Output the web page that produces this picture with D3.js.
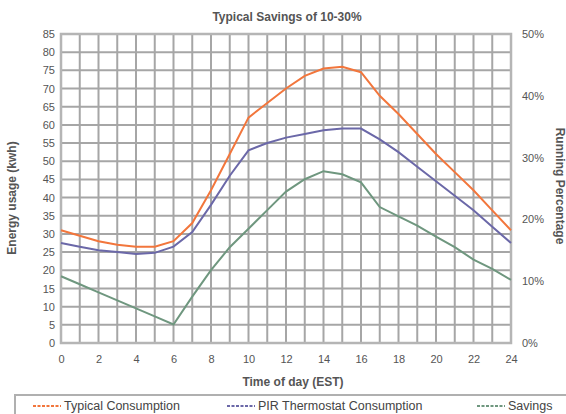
<!DOCTYPE html>
<html>
<head>
<meta charset="utf-8">
<script src="https://cdn.jsdelivr.net/npm/d3@7"></script>
<style>
  html, body { margin: 0; padding: 0; background: #fff; }
  svg { display: block; font-family: "Liberation Sans", Arial, sans-serif; }
</style>
</head>
<body>
<svg id="chart" width="566" height="414"></svg>
<script>
// Hour of day (EST)
const hours = d3.range(0, 25);
// Typical consumption, kWh
const typical = [31, 29.5, 28, 27, 26.5, 26.5, 28, 33, 42, 52, 62, 66, 70, 73.5, 75.5, 76, 74.5, 68, 63, 57.5, 52, 47, 42, 36.5, 31];
// PIR thermostat consumption, kWh
const pir = [27.5, 26.5, 25.5, 25, 24.5, 24.8, 26.5, 30.5, 38, 46, 53, 55, 56.5, 57.5, 58.5, 59, 59, 56, 52.5, 48.5, 44.5, 40.5, 36.5, 32, 27.5];
// Running savings percentage
const savings = [10.8, 9.5, 8.2, 6.9, 5.6, 4.3, 3.0, 7.5, 11.8, 15.5, 18.5, 21.5, 24.5, 26.5, 27.8, 27.3, 26, 22, 20.5, 19, 17.2, 15.5, 13.5, 12, 10.2];

const xTicks = d3.range(0, 25, 2);
const yTicks = d3.range(0, 86, 5);
const pTicks = [0, 10, 20, 30, 40, 50];

const seriesNames = ["Typical Consumption", "PIR Thermostat Consumption", "Savings"];
const seriesColors = ["#f2763c", "#6b68a8", "#6f977f"];

const svg = d3.select("#chart");
const m = { left: 61, right: 511, top: 34, bottom: 343 };

const x = d3.scaleLinear().domain([0, 24]).range([m.left, m.right]);
const y = d3.scaleLinear().domain([0, 85]).range([m.bottom, m.top]);
const yp = d3.scaleLinear().domain([0, 50]).range([m.bottom, m.top]);

const gridColor = "#a6a6a6";
const textColor = "#555";

// grid
const grid = svg.append("g");
grid.selectAll("line.h").data(yTicks).join("line")
  .attr("x1", m.left).attr("x2", m.right)
  .attr("y1", d => y(d)).attr("y2", d => y(d))
  .attr("stroke", gridColor).attr("stroke-width", 2);
grid.selectAll("line.v").data(d3.range(0, 25)).join("line")
  .attr("y1", m.top).attr("y2", m.bottom)
  .attr("x1", d => x(d)).attr("x2", d => x(d))
  .attr("stroke", gridColor).attr("stroke-width", 2);
grid.append("rect")
  .attr("x", m.left).attr("y", m.top)
  .attr("width", m.right - m.left).attr("height", m.bottom - m.top)
  .attr("fill", "none").attr("stroke", "#b5b5b5").attr("stroke-width", 2.5);

// axes
function styleAxis(g) {
  g.select(".domain").remove();
  g.selectAll("text").attr("fill", textColor).attr("font-size", 11);
}
svg.append("g").attr("transform", `translate(${m.left},0)`)
  .call(d3.axisLeft(y).tickValues(yTicks).tickSize(0).tickPadding(6))
  .call(styleAxis);
svg.append("g").attr("transform", `translate(${m.right},0)`)
  .call(d3.axisRight(yp).tickValues(pTicks).tickSize(0).tickPadding(11).tickFormat(d => d + "%"))
  .call(styleAxis);
svg.append("g").attr("transform", `translate(0,${m.bottom})`)
  .call(d3.axisBottom(x).tickValues(xTicks).tickSize(0).tickPadding(12))
  .call(styleAxis);

// titles
svg.append("text").attr("x", 287).attr("y", 21).attr("text-anchor", "middle")
  .attr("font-size", 12).attr("font-weight", "bold").attr("fill", textColor)
  .text("Typical Savings of 10-30%");
svg.append("text").attr("x", 293).attr("y", 386).attr("text-anchor", "middle")
  .attr("font-size", 12).attr("font-weight", "bold").attr("fill", textColor)
  .text("Time of day (EST)");
svg.append("text").attr("transform", "translate(16,198) rotate(-90)")
  .attr("text-anchor", "middle").attr("font-size", 12).attr("font-weight", "bold").attr("fill", textColor)
  .text("Energy usage (kwh)");
svg.append("text").attr("transform", "translate(556,186) rotate(90)")
  .attr("text-anchor", "middle").attr("font-size", 12).attr("font-weight", "bold").attr("fill", textColor)
  .text("Running Percentage");

// series
const lineY = d3.line().x((d, i) => x(hours[i])).y(d => y(d));
const lineP = d3.line().x((d, i) => x(hours[i])).y(d => yp(d));
svg.append("path").datum(savings).attr("d", lineP)
  .attr("fill", "none").attr("stroke", seriesColors[2]).attr("stroke-width", 2);
svg.append("path").datum(pir).attr("d", lineY)
  .attr("fill", "none").attr("stroke", seriesColors[1]).attr("stroke-width", 2);
svg.append("path").datum(typical).attr("d", lineY)
  .attr("fill", "none").attr("stroke", seriesColors[0]).attr("stroke-width", 2);

// legend
svg.append("rect").attr("x", 15).attr("y", 395).attr("width", 560).attr("height", 40)
  .attr("fill", "none").attr("stroke", "#b0b0b0").attr("stroke-width", 2);
const legendX = [33, 227, 477];
const lg = svg.append("g").selectAll("g").data(seriesNames).join("g")
  .attr("transform", (d, i) => `translate(${legendX[i]},406)`);
lg.append("line").attr("x1", 0).attr("x2", 28).attr("y1", 0).attr("y2", 0)
  .attr("stroke", (d, i) => seriesColors[i]).attr("stroke-width", 2)
  .attr("stroke-dasharray", "3,1.5");
lg.append("text").attr("x", 31).attr("y", 4)
  .attr("font-size", 12.5).attr("fill", "#444").text(d => d);
</script>
</body>
</html>
